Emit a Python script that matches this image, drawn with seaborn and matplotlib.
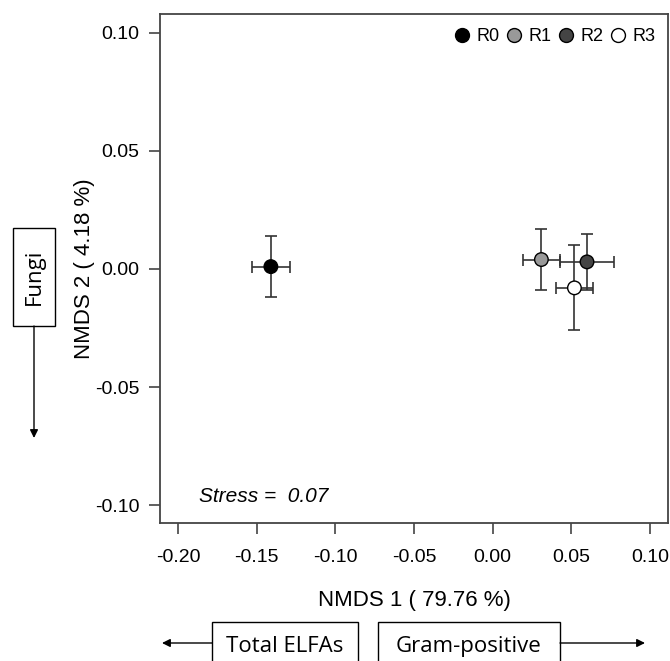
import pandas as pd
import numpy as np
import matplotlib
matplotlib.use("Agg")
import matplotlib.pyplot as plt
import seaborn as sns
from matplotlib.lines import Line2D
from matplotlib.patches import Rectangle

# datos
grupos = ["R0", "R1", "R2", "R3"]
nmds1 = [-0.141, 0.031, 0.060, 0.052]
nmds2 = [0.001, 0.004, 0.003, -0.008]
err1 = [0.012, 0.012, 0.017, 0.012]
err2 = [0.013, 0.013, 0.012, 0.018]
colores = ["#000000", "#999999", "#444444", "#ffffff"]
ticks_x = [-0.20, -0.15, -0.10, -0.05, 0.00, 0.05, 0.10]
ticks_y = [-0.10, -0.05, 0.00, 0.05, 0.10]

df = pd.DataFrame({"grupo": grupos, "NMDS1": nmds1, "NMDS2": nmds2,
                   "e1": err1, "e2": err2})

sns.set_style("ticks")
plt.rcParams["font.family"] = ["Liberation Sans", "DejaVu Sans"]
plt.rcParams["axes.unicode_minus"] = False
plt.rcParams["text.color"] = "black"
plt.rcParams["axes.labelcolor"] = "black"
plt.rcParams["xtick.labelcolor"] = "black"
plt.rcParams["ytick.labelcolor"] = "black"

W, H = 670, 661
fig = plt.figure(figsize=(W / 100, H / 100), dpi=100)
ax = fig.add_axes([160 / W, 1 - 523 / H, (668 - 160) / W, (523 - 14) / H])

# barras de error
for _, fila in df.iterrows():
    ax.errorbar(fila["NMDS1"], fila["NMDS2"], xerr=fila["e1"], yerr=fila["e2"],
                fmt="none", ecolor="#333333", elinewidth=1.2, capsize=4,
                capthick=1.2, zorder=2)

sns.scatterplot(data=df, x="NMDS1", y="NMDS2", hue="grupo", palette=colores,
                s=95, edgecolor="black", linewidth=1, legend=False, zorder=3, ax=ax)

ax.set_xlim(-0.2115, 0.1115)
ax.set_ylim(-0.1076, 0.108)
ax.set_xticks(ticks_x)
ax.set_yticks(ticks_y)
ax.set_xticklabels([f"{t:.2f}" for t in ticks_x])
ax.set_yticklabels([f"{t:.2f}" for t in ticks_y])
ax.tick_params(axis="both", labelsize=14, length=8, width=1.2, color="#444444")
ax.tick_params(axis="x", pad=11)
ax.tick_params(axis="y", pad=7)
for s in ax.spines.values():
    s.set_visible(True)
    s.set_color("#444444")
    s.set_linewidth(1.3)

ax.set_xlabel("NMDS 1 ( 79.76 %)", fontsize=16, labelpad=17)
ax.set_ylabel("NMDS 2 ( 4.18 %)", fontsize=16, labelpad=0)

ax.text(-0.187, -0.0965, "Stress =  0.07", fontsize=15, style="italic",
        va="center", ha="left")

# leyenda
handles = [Line2D([], [], marker="o", linestyle="none", markersize=10,
                  markerfacecolor=c, markeredgecolor="black", markeredgewidth=1)
           for c in colores]
ax.legend(handles, grupos, ncol=4, frameon=False, loc="upper right",
          bbox_to_anchor=(1.0, 0.997), fontsize=13, handlelength=0.7,
          handletextpad=0.45, columnspacing=0.45, borderaxespad=0.3)

# cajas y flechas de vectores
def fx(x):
    return x / W


def fy(y):
    return 1 - y / H


caja = dict(fill=False, edgecolor="black", linewidth=1.0, transform=fig.transFigure)
fig.add_artist(Rectangle((fx(13), fy(326)), fx(55) - fx(13), fy(228) - fy(326), **caja))
fig.add_artist(Rectangle((fx(212), fy(680)), fx(358) - fx(212), fy(622) - fy(680), **caja))
fig.add_artist(Rectangle((fx(378), fy(680)), fx(560) - fx(378), fy(622) - fy(680), **caja))

fuente_caja = ["Open Sans", "DejaVu Sans"]
fig.text(fx(34), fy(277), "Fungi", rotation=90, ha="center", va="center",
         fontsize=16, family=fuente_caja)
fig.text(fx(285), fy(652), "Total ELFAs", ha="center", va="baseline",
         fontsize=16, family=fuente_caja)
fig.text(fx(469), fy(652), "Gram-positive", ha="center", va="baseline",
         fontsize=16, family=fuente_caja)

flecha = dict(arrowstyle="-|>", color="black", lw=1.0, mutation_scale=12,
              shrinkA=0, shrinkB=0)
for a, b in [((34, 326), (34, 438)), ((212, 643), (162, 643)),
             ((560, 643), (645, 643))]:
    ax.annotate("", xy=(fx(b[0]), fy(b[1])), xytext=(fx(a[0]), fy(a[1])),
                xycoords="figure fraction", textcoords="figure fraction",
                arrowprops=flecha, annotation_clip=False)

fig.savefig("out.png", dpi=100)
